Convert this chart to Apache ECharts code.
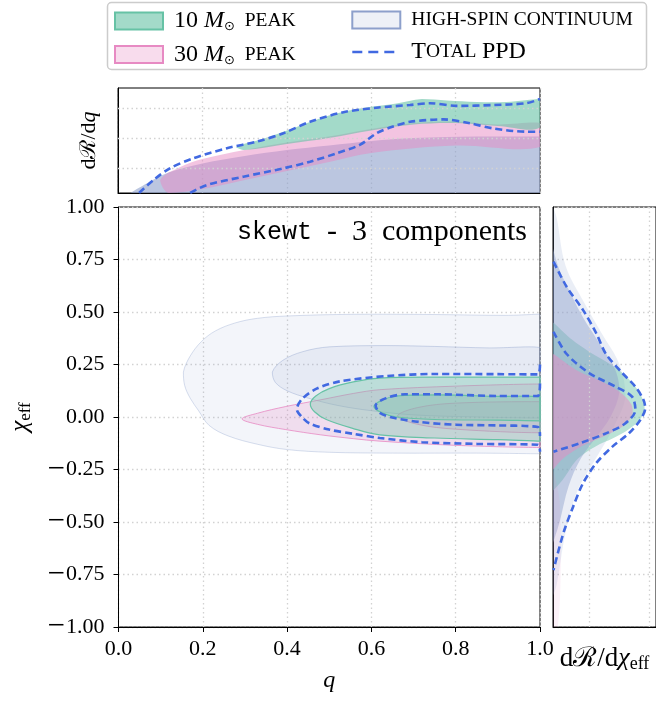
<!DOCTYPE html>
<html><head><meta charset="utf-8">
<script src="https://cdn.jsdelivr.net/npm/echarts@6/dist/echarts.min.js"></script>
<style>html,body{margin:0;padding:0;background:#fff}#c{width:656px;height:701px}</style>
</head><body><div id="c"></div>
<script>
// ===== Main panel: credible-region contours in (q, chi_eff) =====
const hsOuter = [[1.0,0.49],[0.92,0.484],[0.75,0.488],[0.557,0.489],[0.4,0.481],[0.33,0.47],[0.277,0.448],[0.23,0.41],[0.197,0.36],[0.17,0.29],[0.154,0.214],[0.157,0.15],[0.17,0.09],[0.19,0.03],[0.215,-0.04],[0.26,-0.09],[0.33,-0.13],[0.4,-0.155],[0.5,-0.168],[0.65,-0.172],[0.85,-0.172],[1.0,-0.175]];
const hsInner = [[1.0,0.33],[0.88,0.329],[0.75,0.336],[0.637,0.34],[0.5,0.334],[0.437,0.311],[0.39,0.27],[0.365,0.214],[0.372,0.165],[0.4,0.125],[0.45,0.09],[0.52,0.055],[0.6,0.03],[0.7,0.01],[0.85,0.0],[1.0,-0.005]];
const peak30Outer = [[1.0,0.157],[0.8,0.147],[0.62,0.13],[0.557,0.112],[0.48,0.082],[0.397,0.05],[0.33,0.018],[0.293,-0.009],[0.33,-0.035],[0.397,-0.06],[0.48,-0.085],[0.557,-0.103],[0.62,-0.115],[0.8,-0.135],[1.0,-0.145]];
const peak30Inner = [[1.0,0.073],[0.8,0.066],[0.71,0.045],[0.662,0.005],[0.71,-0.035],[0.8,-0.058],[1.0,-0.075]];
const peak10Outer = [[1.0,0.19],[0.9,0.19],[0.75,0.19],[0.62,0.185],[0.557,0.167],[0.5,0.135],[0.468,0.1],[0.455,0.062],[0.465,0.025],[0.493,-0.012],[0.557,-0.055],[0.62,-0.085],[0.75,-0.1],[0.9,-0.108],[1.0,-0.115]];
const peak10Inner = [[1.0,0.095],[0.9,0.098],[0.76,0.105],[0.66,0.1],[0.625,0.08],[0.606,0.05],[0.625,0.02],[0.66,0.0],[0.75,-0.012],[0.9,-0.015],[1.0,-0.018]];
const ppdOuterMain = [[1.0,0.25],[0.995,0.203],[0.9,0.204],[0.75,0.205],[0.637,0.195],[0.526,0.17],[0.47,0.135],[0.435,0.085],[0.423,0.037],[0.435,0.0],[0.453,-0.03],[0.5,-0.06],[0.557,-0.08],[0.62,-0.1],[0.72,-0.12],[0.85,-0.128],[0.995,-0.132],[1.0,-0.165]];
const ppdInnerMain = [[1.0,0.16],[0.995,0.1],[0.9,0.1],[0.76,0.108],[0.68,0.108],[0.635,0.09],[0.61,0.055],[0.62,0.02],[0.655,-0.005],[0.72,-0.025],[0.8,-0.037],[0.9,-0.04],[0.995,-0.048],[1.0,-0.09]];

// ===== Top panel: dR/dq (arbitrary log units) =====
const topGridVals = [1, 2, 3];
const ppdQUpper = [[0.05,0.17],[0.084,0.6],[0.123,0.99],[0.178,1.32],[0.258,1.66],[0.329,1.88],[0.392,2.16],[0.455,2.54],[0.534,2.86],[0.613,3.01],[0.692,3.1],[0.739,3.16],[0.803,3.07],[0.889,3.1],[0.968,3.16],[1.0,3.3]];
const ppdQLower = [[0.171,0.17],[0.21,0.43],[0.297,0.71],[0.392,0.99],[0.455,1.21],[0.518,1.49],[0.573,1.77],[0.613,2.16],[0.652,2.38],[0.692,2.54],[0.771,2.62],[0.834,2.49],[0.889,2.32],[0.968,2.21],[1.0,2.21]];
const hsQBand = [[0.03,0.17],[0.07,0.5],[0.12,0.85],[0.2,1.15],[0.3,1.4],[0.4,1.6],[0.5,1.75],[0.6,1.9],[0.7,2.0],[0.85,2.05],[1.0,2.05],[1.0,0.17]];
const peak30QBand = [[0.1,0.6],[0.15,1.05],[0.2,1.3],[0.3,1.6],[0.4,1.85],[0.5,2.05],[0.6,2.3],[0.7,2.5],[0.8,2.55],[0.9,2.45],[1.0,2.5],[1.0,1.7],[0.8,1.75],[0.6,1.5],[0.5,1.2],[0.4,0.9],[0.3,0.6],[0.2,0.3],[0.12,0.17]];
const peak10QBand = [[0.28,1.7],[0.35,2.0],[0.42,2.35],[0.5,2.75],[0.58,3.0],[0.66,3.15],[0.72,3.3],[0.78,3.25],[0.85,3.2],[0.92,3.2],[1.0,3.3],[1.0,2.35],[0.9,2.4],[0.8,2.5],[0.7,2.45],[0.6,2.25],[0.5,2.0],[0.4,1.8],[0.3,1.6]];

// ===== Right panel: dR/dchi_eff (arbitrary units) vs chi_eff =====
const rightGridVals = [1, 2];
const ppdChiUpper = [[0.398,0.74],[0.618,0.62],[0.89,0.51],[1.11,0.40],[1.274,0.30],[1.546,0.21],[1.766,0.144],[1.902,0.081],[1.93,0.041],[1.847,-0.014],[1.656,-0.078],[1.382,-0.141],[1.11,-0.22],[0.89,-0.316],[0.726,-0.427],[0.562,-0.554],[0.398,-0.729]];
const ppdChiLower = [[0.398,0.406],[0.618,0.30],[1.0,0.208],[1.438,0.144],[1.71,0.097],[1.766,0.033],[1.6,-0.03],[1.274,-0.078],[0.836,-0.125],[0.398,-0.165]];
const hsChiHalo = [[0.39,1.0],[0.45,0.95],[0.6,0.72],[0.9,0.55],[1.2,0.4],[1.5,0.25],[1.6,0.1],[1.4,-0.05],[1.1,-0.2],[0.8,-0.35],[0.6,-0.55],[0.45,-0.8],[0.39,-0.85]];
const hsChiBand = [[0.39,0.8],[0.5,0.7],[0.7,0.58],[0.9,0.47],[1.1,0.38],[1.3,0.29],[1.45,0.21],[1.5,0.12],[1.35,0.0],[1.1,-0.1],[0.85,-0.2],[0.65,-0.33],[0.5,-0.5],[0.39,-0.6]];
const peak10ChiBand = [[0.39,0.45],[0.7,0.37],[1.0,0.31],[1.3,0.26],[1.55,0.21],[1.75,0.15],[1.88,0.09],[1.92,0.04],[1.85,-0.01],[1.65,-0.06],[1.4,-0.1],[1.1,-0.14],[0.8,-0.2],[0.55,-0.3],[0.39,-0.35]];
const peak30ChiBand = [[0.39,0.3],[0.8,0.22],[1.2,0.17],[1.5,0.12],[1.7,0.06],[1.72,0.02],[1.62,-0.03],[1.4,-0.07],[1.1,-0.11],[0.8,-0.15],[0.55,-0.2],[0.39,-0.25]];
const peak30ChiTail = [[0.39,-0.25],[0.5,-0.4],[0.52,-0.7],[0.47,-1.0],[0.39,-1.0]];

const N10 = '10 M⊙ peak', N30 = '30 M⊙ peak', NHS = 'high-spin continuum', NTOT = 'Total PPD';
const SERIF = '"Liberation Serif", "DejaVu Serif", serif';
const GREEN = '#66c2a5', PINK = '#e78ac3', LAV = '#8da0cb', BLUE = '#4169e1';
const DOT = {color:'#d2d2d2', width:1.3, type:[1.5,3]};

function polySeries(name, pts, idx, fill, stroke, lw, z) {
  return {
    type:'custom', name, xAxisIndex:idx, yAxisIndex:idx, z:z||2, silent:true, data:[0],
    renderItem: function(params, api) {
      const p = pts.map(d => api.coord(d));
      let mnx=Infinity,mny=Infinity,mxx=-Infinity,mxy=-Infinity;
      p.forEach(v=>{mnx=Math.min(mnx,v[0]);mny=Math.min(mny,v[1]);mxx=Math.max(mxx,v[0]);mxy=Math.max(mxy,v[1]);});
      return {type:'polygon', shape:{points:p, smooth:0.35, smoothConstraint:[[mnx,mny],[mxx,mxy]]},
        style:{fill:fill, stroke:stroke||null, lineWidth:lw||0}};
    }
  };
}
function dashSeries(pts, idx, z) {
  return {type:'line', name:NTOT, xAxisIndex:idx, yAxisIndex:idx, data:pts, smooth:0.3, symbol:'none', showSymbol:false,
    z:z||6, silent:true, itemStyle:{color:BLUE}, lineStyle:{color:BLUE, width:2.6, type:[7,4]}};
}
function gridMark(idx, axisKey, vals) {
  return {type:'line', xAxisIndex:idx, yAxisIndex:idx, data:[], z:1, silent:true,
    markLine:{silent:true, symbol:'none', label:{show:false}, lineStyle:DOT,
      data: vals.map(v => ({[axisKey]: v}))}};
}

const RICH = {
  pad:{width:6},
  n:{fontFamily:SERIF, fontSize:24, color:'#000'},
  i:{fontFamily:SERIF, fontSize:24, fontStyle:'italic', color:'#000'},
  sub:{fontFamily:'"DejaVu Sans", sans-serif', fontSize:13, color:'#000', padding:[12,0,0,0]},
  sc:{fontFamily:SERIF, fontSize:19.5, color:'#000'}
};
const legendLabel = {};
legendLabel[N10] = '{pad|}{n|10 }{i|M}{sub|⊙}{sc|  PEAK}';
legendLabel[N30] = '{pad|}{n|30 }{i|M}{sub|⊙}{sc|  PEAK}';
legendLabel[NHS] = '{pad|}{sc|HIGH-SPIN CONTINUUM}';
legendLabel[NTOT] = '{pad|}{n|T}{sc|OTAL} {n|PPD}';

const legendBase = {orient:'vertical', itemWidth:48, itemHeight:17, itemGap:9, padding:0, selectedMode:false, z:10,
  formatter: n => legendLabel[n], textStyle:{fontFamily:SERIF, fontSize:22, color:'#000', rich:RICH}};

const TICKRICH = {m:{fontFamily:SERIF, fontSize:31, color:'#000', padding:[0,1,0,0]},
                  d:{fontFamily:SERIF, fontSize:22, color:'#000'}};

const option = {
  animation:false,
  backgroundColor:'#fff',
  graphic:[
    {type:'rect', z:0, shape:{x:107.5, y:2.5, width:539, height:67, r:4}, style:{fill:'#fff', stroke:'#cccccc', lineWidth:1.5}},
    {type:'text', z:20, x:527, y:232, style:{
      text:'{m|skewt}{s|  -  3  components}', align:'right', verticalAlign:'middle',
      rich:{m:{fontFamily:'"Liberation Mono", "DejaVu Sans Mono", monospace', fontSize:25, color:'#000'},
            s:{fontFamily:SERIF, fontSize:30, color:'#000'}}}}
  ],
  legend:[
    Object.assign({}, legendBase, {left:114, top:9, data:[
      {name:N10, icon:'rect', itemStyle:{color:'rgba(102,194,165,0.6)', borderColor:GREEN, borderWidth:2}},
      {name:N30, icon:'rect', itemStyle:{color:'rgba(231,138,195,0.3)', borderColor:PINK, borderWidth:2}}]}),
    Object.assign({}, legendBase, {left:351, top:9, data:[
      {name:NHS, icon:'rect', itemStyle:{color:'rgba(141,160,203,0.15)', borderColor:LAV, borderWidth:2}},
      {name:NTOT, itemStyle:{opacity:0}, lineStyle:{type:[10,6], width:2.6, color:BLUE}}]})
  ],
  grid:[
    {left:118, top:207, width:422, height:420, show:true, borderColor:'#000', borderWidth:1, backgroundColor:'transparent'},
    {left:118, top:88, width:422, height:105, show:true, borderColor:'#000', borderWidth:1, backgroundColor:'transparent'},
    {left:553, top:207, width:105, height:420, show:true, borderColor:'#000', borderWidth:1, backgroundColor:'transparent'}
  ],
  xAxis:[
    {gridIndex:0, type:'value', min:0, max:1, interval:0.2,
      axisLine:{onZero:false, lineStyle:{color:'#000', width:1}}, axisTick:{length:5, lineStyle:{color:'#000'}},
      axisLabel:{fontFamily:SERIF, fontSize:22, color:'#000', margin:11, formatter:v=>v.toFixed(1)},
      splitLine:{show:true, lineStyle:DOT},
      name:'q', nameLocation:'middle', nameGap:42, nameTextStyle:{fontFamily:SERIF, fontSize:24, fontStyle:'italic', color:'#000'}},
    {gridIndex:1, type:'value', min:0, max:1, interval:0.2,
      axisLine:{onZero:false, lineStyle:{color:'#000'}}, axisTick:{show:false}, axisLabel:{show:false},
      splitLine:{show:true, lineStyle:DOT}},
    {gridIndex:2, type:'value', min:0.39, max:2.11,
      axisLine:{onZero:false, lineStyle:{color:'#000'}}, axisTick:{show:false}, axisLabel:{show:false}, splitLine:{show:false},
      name:'{d|dℛ/d}{c|χ}{e|eff}', nameLocation:'middle', nameGap:17,
      nameTextStyle:{rich:{d:{fontFamily:SERIF, fontSize:27, color:'#000'}, c:{fontFamily:SERIF, fontSize:26, fontStyle:'italic', color:'#000'},
        e:{fontFamily:SERIF, fontSize:18, color:'#000', padding:[11,0,0,0]}}}}
  ],
  yAxis:[
    {gridIndex:0, type:'value', min:-1, max:1, interval:0.25,
      axisLine:{onZero:false, lineStyle:{color:'#000', width:1}}, axisTick:{length:5, lineStyle:{color:'#000'}},
      axisLabel:{margin:14, rich:TICKRICH, formatter:v=>(v<0?'{m|−}':'')+'{d|'+Math.abs(v).toFixed(2)+'}'},
      splitLine:{show:true, lineStyle:DOT},
      name:'{c|χ}{e|eff}', nameLocation:'middle', nameGap:84, nameRotate:90,
      nameTextStyle:{rich:{c:{fontFamily:SERIF, fontSize:25, fontStyle:'italic', color:'#000'}, e:{fontFamily:SERIF, fontSize:17, color:'#000', padding:[11,0,0,0]}}}},
    {gridIndex:1, type:'value', min:0.1667, max:3.6667,
      axisLine:{onZero:false, lineStyle:{color:'#000'}}, axisTick:{show:false}, axisLabel:{show:false}, splitLine:{show:false},
      name:'{d|dℛ/d}{q|q}', nameLocation:'middle', nameGap:18, nameRotate:90,
      nameTextStyle:{rich:{d:{fontFamily:SERIF, fontSize:22, color:'#000'}, q:{fontFamily:SERIF, fontSize:22, fontStyle:'italic', color:'#000'}}}},
    {gridIndex:2, type:'value', min:-1, max:1, interval:0.25,
      axisLine:{onZero:false, lineStyle:{color:'#000'}}, axisTick:{show:false}, axisLabel:{show:false},
      splitLine:{show:true, lineStyle:DOT}}
  ],
  series:[
    // main contours
    polySeries(NHS, hsOuter, 0, 'rgba(141,160,203,0.10)', 'rgba(141,160,203,0.35)', 1),
    polySeries(NHS, hsInner, 0, 'rgba(141,160,203,0.12)', 'rgba(141,160,203,0.4)', 1),
    polySeries(N30, peak30Outer, 0, 'rgba(231,138,195,0.22)', 'rgba(231,138,195,0.8)', 1),
    polySeries(N30, peak30Inner, 0, 'rgba(231,138,195,0.22)', 'rgba(231,138,195,0.8)', 1),
    polySeries(N10, peak10Outer, 0, 'rgba(102,194,165,0.33)', GREEN, 1.2),
    polySeries(N10, peak10Inner, 0, 'rgba(102,194,165,0.3)', GREEN, 1.2),
    dashSeries(ppdOuterMain, 0), dashSeries(ppdInnerMain, 0),
    // top panel
    gridMark(1, 'yAxis', topGridVals),
    polySeries(NHS, hsQBand, 1, 'rgba(141,160,203,0.6)'),
    polySeries(N30, peak30QBand, 1, 'rgba(231,138,195,0.5)'),
    polySeries(N10, peak10QBand, 1, 'rgba(102,194,165,0.6)'),
    dashSeries(ppdQUpper, 1), dashSeries(ppdQLower, 1),
    // right panel
    gridMark(2, 'xAxis', rightGridVals),
    polySeries(NHS, hsChiHalo, 2, 'rgba(141,160,203,0.18)'),
    polySeries(N10, peak10ChiBand, 2, 'rgba(102,194,165,0.45)'),
    polySeries(NHS, hsChiBand, 2, 'rgba(141,160,203,0.45)'),
    polySeries(N30, peak30ChiBand, 2, 'rgba(231,138,195,0.5)'),
    polySeries(N30, peak30ChiTail, 2, 'rgba(231,138,195,0.12)'),
    dashSeries(ppdChiUpper, 2), dashSeries(ppdChiLower, 2)
  ]
};
const chart = echarts.init(document.getElementById('c'), null, {renderer:'canvas'});
chart.setOption(option);
</script></body></html>
